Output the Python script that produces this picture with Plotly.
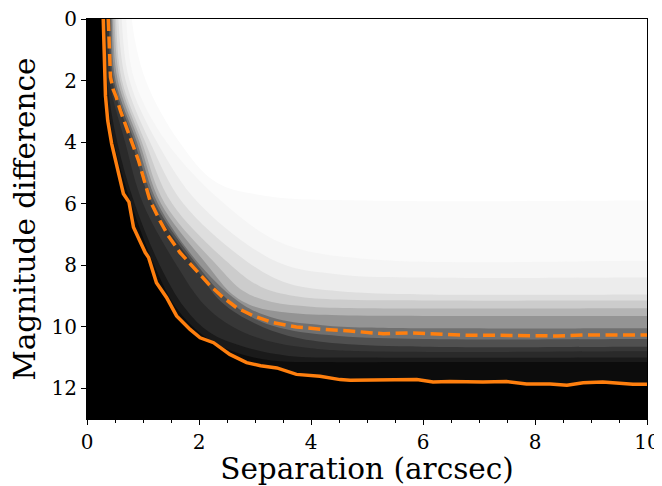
import plotly.graph_objects as go

# ---------------- data ----------------
# solid contrast curve (separation in arcsec, magnitude difference)
solid_sep = [0.29, 0.31, 0.33, 0.37, 0.44, 0.58, 0.65, 0.75, 0.80, 0.83, 0.94, 1.04, 1.10, 1.15, 1.24, 1.42,
             1.60, 1.84, 2.02, 2.26, 2.55, 2.85, 3.10, 3.39, 3.74, 4.16, 4.52, 4.70, 5.35, 5.89, 6.18,
             6.48, 7.07, 7.49, 7.85, 8.27, 8.57, 8.86, 9.21, 9.75, 10.0]
solid_mag = [0.0, 1.5, 2.5, 3.3, 4.05, 5.14, 5.68, 5.95, 6.4, 6.77, 7.2, 7.59, 7.75, 8.08, 8.57, 9.05,
             9.65, 10.09, 10.36, 10.52, 10.9, 11.17, 11.27, 11.34, 11.55, 11.61, 11.72, 11.74, 11.72, 11.72, 11.8,
             11.78, 11.8, 11.78, 11.86, 11.86, 11.9, 11.82, 11.8, 11.87, 11.87]

# dashed contrast curve
dashed_sep = [0.38, 0.40, 0.42, 0.47, 0.52, 0.60, 0.71, 0.80, 0.92, 1.02, 1.125, 1.30, 1.45, 1.66, 1.90,
              2.20, 2.43, 2.67, 2.97, 3.33, 3.74, 4.22, 4.70, 4.90, 5.29, 5.77, 6.24, 6.78, 7.38, 8.03,
              8.39, 8.86, 9.46, 10.0]
dashed_mag = [0.0, 1.0, 1.9, 2.3, 2.53, 3.0, 3.51, 4.0, 4.6, 5.2, 5.9, 6.55, 7.04, 7.59, 8.08,
              8.67, 9.05, 9.38, 9.65, 9.87, 10.01, 10.09, 10.14, 10.17, 10.23, 10.2, 10.25, 10.28, 10.28, 10.28,
              10.3, 10.27, 10.27, 10.27]

# iso-brightness boundaries of the grey background map (lightest first)
iso253_sep = [0.80, 1.05, 1.65, 2.3, 3.2, 5.0, 10.0]
iso253_mag = [0.0, 2.0, 4.0, 5.3, 5.75, 5.9, 5.9]
iso249_sep = [0.70, 0.85, 1.42, 2.45, 3.5, 5.0, 10.0]
iso249_mag = [0.0, 2.0, 4.0, 6.0, 7.3, 7.8, 7.86]
iso242_sep = [0.62, 0.76, 1.25, 2.0, 3.4, 4.5, 6.0, 10.0]
iso242_mag = [0.0, 2.0, 4.0, 6.0, 7.9, 8.3, 8.4, 8.4]
iso230_sep = [0.56, 0.69, 1.125, 1.72, 2.95, 3.6, 4.5, 6.0, 10.0]
iso230_mag = [0.0, 2.0, 4.0, 6.0, 8.0, 8.6, 8.85, 8.95, 8.95]
iso212_sep = [0.52, 0.625, 1.04, 1.52, 2.57, 3.1, 3.7, 4.5, 6.0, 10.0]
iso212_mag = [0.0, 2.0, 4.0, 6.0, 8.0, 8.7, 9.0, 9.12, 9.15, 9.15]
iso190_sep = [0.49, 0.59, 0.98, 1.39, 2.32, 2.8, 3.3, 4.0, 5.0, 10.0]
iso190_mag = [0.0, 2.0, 4.0, 6.0, 8.0, 8.85, 9.2, 9.35, 9.4, 9.4]
iso160_sep = [0.46, 0.55, 0.935, 1.32, 2.15, 2.6, 3.0, 3.6, 4.5, 6.0, 10.0]
iso160_mag = [0.0, 2.0, 4.0, 6.0, 8.0, 8.95, 9.35, 9.55, 9.63, 9.65, 9.65]
iso128_sep = [0.44, 0.51, 0.89, 1.265, 2.02, 2.8, 3.4, 4.2, 5.0, 10.0]
iso128_mag = [0.0, 2.0, 4.0, 6.0, 8.0, 9.3, 9.75, 9.95, 10.03, 10.05]
iso95_sep = [0.42, 0.48, 0.85, 1.22, 1.97, 2.5, 3.0, 3.6, 4.5, 6.0, 10.0]
iso95_mag = [0.0, 2.0, 4.0, 6.0, 8.0, 9.1, 9.75, 10.1, 10.3, 10.4, 10.4]
iso65_sep = [0.39, 0.45, 0.80, 1.16, 1.91, 2.4, 3.0, 3.6, 4.5, 6.0, 10.0]
iso65_mag = [0.0, 2.0, 4.0, 6.0, 8.0, 9.2, 9.9, 10.3, 10.55, 10.65, 10.65]
iso45_sep = [0.355, 0.40, 0.68, 1.0, 1.6, 2.1, 2.6, 3.2, 4.0, 5.0, 10.0]
iso45_mag = [0.0, 2.0, 4.0, 6.0, 8.0, 9.3, 10.0, 10.45, 10.7, 10.8, 10.8]
iso28_sep = [0.33, 0.36, 0.54, 0.85, 1.3, 1.75, 2.2, 2.8, 3.6, 5.0, 10.0]
iso28_mag = [0.0, 2.0, 4.0, 6.0, 8.0, 9.4, 10.2, 10.65, 10.95, 11.0, 11.0]
iso15_sep = [0.31, 0.34, 0.48, 0.79, 1.2, 1.6, 2.05, 2.6, 3.3, 4.2, 6.0, 10.0]
iso15_mag = [0.0, 2.0, 4.0, 6.0, 8.0, 9.4, 10.25, 10.8, 11.1, 11.15, 11.15, 11.15]

# grey level (0-255) of the band just below each boundary
band_gray = [250, 245, 236, 222, 204, 180, 148, 112, 80, 55, 42, 26, 12]
band_sep = [iso253_sep, iso249_sep, iso242_sep, iso230_sep, iso212_sep, iso190_sep, iso160_sep,
            iso128_sep, iso95_sep, iso65_sep, iso45_sep, iso28_sep, iso15_sep]
band_mag = [iso253_mag, iso249_mag, iso242_mag, iso230_mag, iso212_mag, iso190_mag, iso160_mag,
            iso128_mag, iso95_mag, iso65_mag, iso45_mag, iso28_mag, iso15_mag]

x_ticks = [0, 2, 4, 6, 8, 10]
y_ticks = [0, 2, 4, 6, 8, 10, 12]

ORANGE = "#ff7f0e"
FONT = "DejaVu Serif"

fig = go.Figure()


def region_below(seps, mags, color, shape):
    xs = [seps[0]] + list(seps) + [10.8, 10.8, -0.8, -0.8]
    ys = [-1.0] + list(mags) + [mags[-1], 14.0, 14.0, -1.0]
    fig.add_trace(go.Scatter(x=xs, y=ys, mode="lines", fill="toself",
                             fillcolor=color, line=dict(width=0, shape=shape),
                             hoverinfo="skip", showlegend=False))


for g, s, m in zip(band_gray, band_sep, band_mag):
    region_below(s, m, f"rgb({g},{g},{g})", "spline")

# black area below the solid curve
region_below(solid_sep, solid_mag, "rgb(0,0,0)", "linear")

fig.add_trace(go.Scatter(x=solid_sep, y=solid_mag, mode="lines",
                         line=dict(color=ORANGE, width=3.5), showlegend=False))
fig.add_trace(go.Scatter(x=dashed_sep, y=dashed_mag, mode="lines",
                         line=dict(color=ORANGE, width=3.5, dash="12px,5.5px"), showlegend=False))

# the page body has an 8px margin, so the figure is sized/offset to compensate
fig.update_layout(
    width=654, height=478,
    margin=dict(l=79, r=15, t=11, b=67, autoexpand=False),
    paper_bgcolor="white", plot_bgcolor="white",
    font=dict(family=FONT, color="black", size=20),
    showlegend=False,
)
fig.update_xaxes(
    range=[0, 10], tickvals=x_ticks, ticks="outside", ticklen=5, tickwidth=1, tickcolor="black",
    showline=True, linecolor="black", linewidth=1, mirror=True, showgrid=False, zeroline=False,
    minor=dict(dtick=0.5, ticks="outside", ticklen=3, tickwidth=1, tickcolor="black", showgrid=False),
    tickfont=dict(size=20, family=FONT), automargin=False, ticklabeloverflow="allow",
    title=dict(text="Separation (arcsec)", font=dict(size=29.5, family=FONT), standoff=1),
)
fig.update_yaxes(
    range=[13, 0], tickvals=y_ticks, ticks="outside", ticklen=5, tickwidth=1, tickcolor="black",
    showline=True, linecolor="black", linewidth=1, mirror=True, showgrid=False, zeroline=False,
    tickfont=dict(size=20, family=FONT), automargin=False, ticklabeloverflow="allow",
    title=dict(text="Magnitude difference", font=dict(size=29.5, family=FONT), standoff=8),
)

fig.write_html("out.html")
